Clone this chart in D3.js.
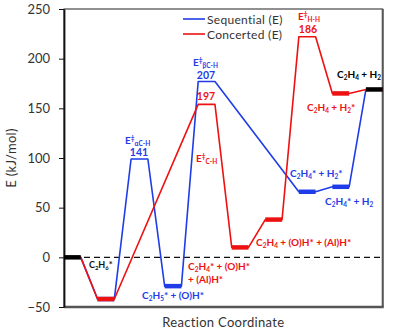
<!DOCTYPE html>
<html>
<head>
<meta charset="utf-8">
<script src="https://cdn.jsdelivr.net/npm/d3@7"></script>
<style>
  body { margin: 0; background: #fff; }
  text { font-family: Lato, "Open Sans", sans-serif; }
</style>
</head>
<body>
<div id="chart"></div>
<script>
// level index along the reaction coordinate, energy in kJ/mol
const seqLevels = [0, 1, 2, 3, 4, 7, 8, 9];
const seqE = [0, -42, 99, -29, 177, 66, 71, 169];
const seqTS = [2, 4];

const concLevels = [0, 1, 4, 5, 6, 7, 8, 9];
const concE = [0, -42, 154, 10, 38, 222, 165, 169];
const concTS = [4, 7];

const yTicks = [-50, 0, 50, 100, 150, 200, 250];
const seriesNames = ["Sequential (E)", "Concerted (E)"];

let width = 397, height = 333;
let margin = { top: 9, right: 14.3, bottom: 26, left: 64 };

let blue = "#1f3ce8", red = "#ee1111";

let x = d3.scaleLinear().domain([0, 19]).range([margin.left, width - margin.right]);
let y = d3.scaleLinear().domain([-50, 250]).range([height - margin.bottom, margin.top]);

let svg = d3.select("#chart").append("svg")
	.attr("width", width)
	.attr("height", height);

// plot frame
svg.append("rect")
	.attr("x", x(0)).attr("y", y(250))
	.attr("width", x(19) - x(0)).attr("height", y(-50) - y(250))
	.attr("fill", "none").attr("stroke", "#222").attr("stroke-width", 1);
svg.append("line")
	.attr("x1", x(19)).attr("x2", x(19)).attr("y1", y(250)).attr("y2", y(-50))
	.attr("stroke", "#555").attr("stroke-width", 2);
svg.append("line")
	.attr("x1", x(0)).attr("x2", x(19) + 1).attr("y1", y(-50)).attr("y2", y(-50))
	.attr("stroke", "#555").attr("stroke-width", 2.5);

// y axis
let yAxis = svg.append("g")
	.attr("transform", `translate(${x(0)},0)`)
	.call(d3.axisLeft(y).tickValues(yTicks).tickSize(5).tickSizeOuter(0).tickPadding(9));
yAxis.select(".domain").attr("stroke", "#111").attr("stroke-width", 1.8);
yAxis.selectAll(".tick line").attr("stroke", "#111");
yAxis.selectAll("text").attr("font-size", 13).attr("fill", "#333")
	.attr("font-family", "Lato, sans-serif");

// zero line
svg.append("line")
	.attr("x1", x(0)).attr("x2", x(19)).attr("y1", y(0)).attr("y2", y(0))
	.attr("stroke", "#111").attr("stroke-width", 1.3).attr("stroke-dasharray", "6,4");

function pts(levels, vals) {
	let p = [];
	levels.forEach((k, i) => { p.push([2 * k, vals[i]]); p.push([2 * k + 1, vals[i]]); });
	return p;
}
let line = d3.line().x(d => x(d[0])).y(d => y(d[1]));

function drawSeries(levels, vals, ts, color) {
	svg.append("path")
		.attr("d", line(pts(levels, vals)))
		.attr("fill", "none").attr("stroke", color).attr("stroke-width", 1.6)
		.attr("stroke-linejoin", "round");
	levels.forEach((k, i) => {
		if (ts.includes(k) || k === 0 || k === 9) return;
		svg.append("line")
			.attr("x1", x(2 * k)).attr("x2", x(2 * k + 1))
			.attr("y1", y(vals[i])).attr("y2", y(vals[i]))
			.attr("stroke", color).attr("stroke-width", 4.5);
	});
}
drawSeries(seqLevels, seqE, seqTS, blue);
drawSeries(concLevels, concE, concTS, red);

// shared start and end states
[[0, seqE[0]], [9, seqE[seqE.length - 1]]].forEach(d => {
	svg.append("line")
		.attr("x1", x(2 * d[0])).attr("x2", x(2 * d[0] + 1))
		.attr("y1", y(d[1])).attr("y2", y(d[1]))
		.attr("stroke", "#000").attr("stroke-width", 4.5);
});

// legend
[blue, red].forEach((c, i) => {
	let ly = 19 + i * 15;
	svg.append("line").attr("x1", 183).attr("x2", 205).attr("y1", ly).attr("y2", ly)
		.attr("stroke", c).attr("stroke-width", 1.6);
	svg.append("text").attr("x", 207).attr("y", ly + 4.5)
		.attr("font-size", 12).attr("fill", "#333").attr("letter-spacing", 0.3)
		.text(seriesNames[i]);
});

// labels: parts are [text, "sub"|"sup"|null]
function label(xp, yp, color, parts, size, anchor) {
	let fs = size || 10;
	let t = svg.append("text").attr("x", xp).attr("y", yp)
		.attr("fill", color).attr("font-size", fs).attr("font-weight", "bold")
		.attr("text-anchor", anchor || "start");
	parts.forEach(p => {
		let s = t.append("tspan").text(p[0]);
		if (p[1] === "sub") s.attr("font-size", fs * 0.65).attr("baseline-shift", "-25%");
		if (p[1] === "sup") s.attr("font-size", fs * 0.65).attr("baseline-shift", "45%");
	});
}
const C2H4 = [["C"], ["2", "sub"], ["H"], ["4", "sub"]];

label(125, 144, blue, [["E"], ["‡", "sup"], ["αC-H", "sub"]]);
label(139, 156, blue, [["141"]], 10.5, "middle");
label(193, 66, blue, [["E"], ["‡", "sup"], ["βC-H", "sub"]]);
label(206, 79, blue, [["207"]], 10.5, "middle");
label(206, 100, red, [["197"]], 10.5, "middle");
label(196, 162, red, [["E"], ["‡", "sup"], ["C-H", "sub"]]);
label(298, 20, red, [["E"], ["‡", "sup"], ["H-H", "sub"]]);
label(308, 33, red, [["186"]], 10.5, "middle");

label(337, 78, "#000", [["C"], ["2", "sub"], ["H"], ["4", "sub"], [" + H"], ["2", "sub"]]);
label(307, 111, red, C2H4.concat([[" + H"], ["2", "sub"], ["*"]]));
label(290, 177, blue, C2H4.concat([["* + H"], ["2", "sub"], ["*"]]));
label(325, 205, blue, C2H4.concat([["* + H"], ["2", "sub"]]));
label(256, 246, red, C2H4.concat([[" + (O)H* + (Al)H*"]]));
label(188, 270, red, C2H4.concat([["* + (O)H*"]]));
label(188, 283, red, [["+ (Al)H*"]]);
label(142, 299, blue, [["C"], ["2", "sub"], ["H"], ["5", "sub"], ["* + (O)H*"]]);
label(89, 268, "#111", [["C"], ["2", "sub"], ["H"], ["6", "sub"], ["*"]], 9);

// axis titles
svg.append("text")
	.attr("x", (x(0) + x(19)) / 2).attr("y", 327)
	.attr("text-anchor", "middle").attr("font-size", 13).attr("fill", "#333")
	.attr("letter-spacing", 0.3)
	.text("Reaction Coordinate");
svg.append("text")
	.attr("transform", `translate(16,${(y(250) + y(-50)) / 2}) rotate(-90)`)
	.attr("text-anchor", "middle").attr("font-size", 13).attr("fill", "#333")
	.attr("letter-spacing", 0.3)
	.text("E (kJ/mol)");
</script>
</body>
</html>
